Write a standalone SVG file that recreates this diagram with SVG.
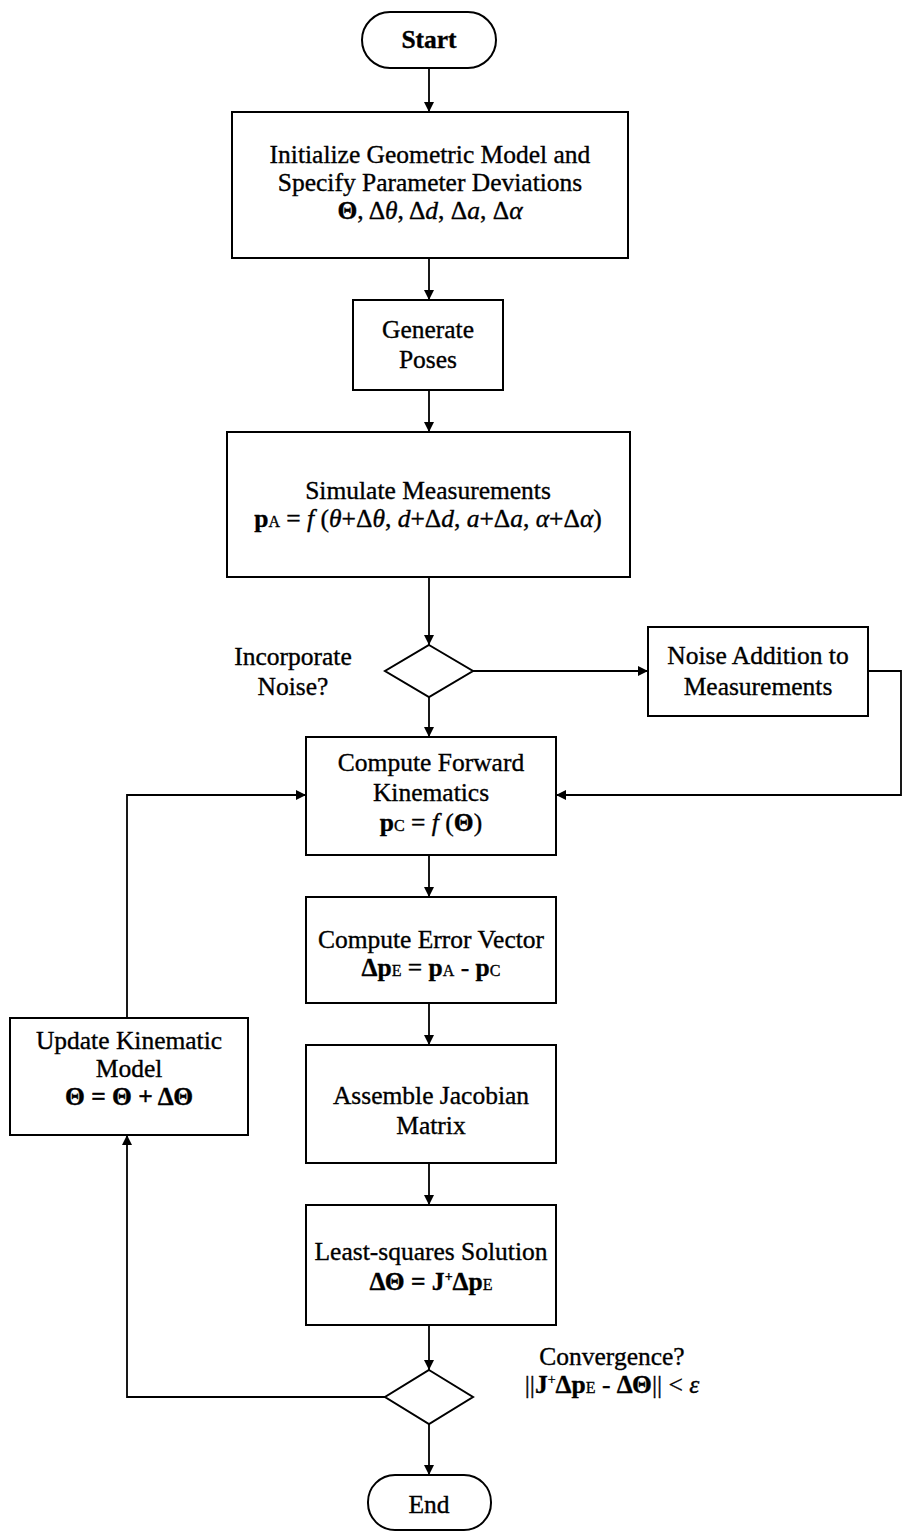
<svg xmlns="http://www.w3.org/2000/svg" width="903" height="1535" viewBox="0 0 903 1535">
<style>
.box{fill:#fff;stroke:#000;stroke-width:2}
.ln{fill:none;stroke:#000;stroke-width:1.8}
text{font-family:"Liberation Serif","Times New Roman",serif;font-size:25.5px;fill:#000;stroke:#000;stroke-width:0.35;text-anchor:middle}
.b{font-weight:bold}
.i{font-style:italic}
.s{font-size:16px}
.sup{font-size:14px}
</style>
<defs>
<marker id="ah" viewBox="0 0 10 10" refX="10" refY="5" markerWidth="11" markerHeight="10" markerUnits="userSpaceOnUse" orient="auto">
<path d="M0,0 L10,5 L0,10 z" fill="#000"/>
</marker>
</defs>
<rect width="903" height="1535" fill="#fff"/>
<g id="connectors">
<line class="ln" x1="429" y1="68" x2="429" y2="112" marker-end="url(#ah)"/>
<line class="ln" x1="429" y1="258" x2="429" y2="300" marker-end="url(#ah)"/>
<line class="ln" x1="429" y1="390" x2="429" y2="432" marker-end="url(#ah)"/>
<line class="ln" x1="429" y1="577" x2="429" y2="645" marker-end="url(#ah)"/>
<line class="ln" x1="473" y1="671" x2="648" y2="671" marker-end="url(#ah)"/>
<polyline class="ln" points="868,671 901,671 901,795 556,795" marker-end="url(#ah)"/>
<line class="ln" x1="429" y1="697" x2="429" y2="737" marker-end="url(#ah)"/>
<line class="ln" x1="429" y1="855" x2="429" y2="897" marker-end="url(#ah)"/>
<line class="ln" x1="429" y1="1003" x2="429" y2="1045" marker-end="url(#ah)"/>
<line class="ln" x1="429" y1="1163" x2="429" y2="1205" marker-end="url(#ah)"/>
<line class="ln" x1="429" y1="1325" x2="429" y2="1370" marker-end="url(#ah)"/>
<line class="ln" x1="429" y1="1424" x2="429" y2="1475" marker-end="url(#ah)"/>
<polyline class="ln" points="385,1397 127,1397 127,1135" marker-end="url(#ah)"/>
<polyline class="ln" points="127,1018 127,795 306,795" marker-end="url(#ah)"/>
</g>
<g id="start">
<rect class="box" x="362" y="12" width="134" height="56" rx="28"/>
<text x="429" y="48" class="b">Start</text>
</g>
<g id="init">
<rect class="box" x="232" y="112" width="396" height="146"/>
<text x="430" y="163">Initialize Geometric Model and</text>
<text x="430" y="191">Specify Parameter Deviations</text>
<text x="430" y="219"><tspan class="b">Θ</tspan>, Δ<tspan class="i">θ</tspan>, Δ<tspan class="i">d</tspan>, Δ<tspan class="i">a</tspan>, Δ<tspan class="i">α</tspan></text>
</g>
<g id="poses">
<rect class="box" x="353" y="300" width="150" height="90"/>
<text x="428" y="338">Generate</text>
<text x="428" y="368">Poses</text>
</g>
<g id="simulate">
<rect class="box" x="227" y="432" width="403" height="145"/>
<text x="428" y="499">Simulate Measurements</text>
<text x="428" y="527"><tspan class="b">p</tspan><tspan class="s">A</tspan> = <tspan class="i">f</tspan> (<tspan class="i">θ</tspan>+Δ<tspan class="i">θ</tspan>, <tspan class="i">d</tspan>+Δ<tspan class="i">d</tspan>, <tspan class="i">a</tspan>+Δ<tspan class="i">a</tspan>, <tspan class="i">α</tspan>+Δ<tspan class="i">α</tspan>)</text>
</g>
<g id="noise-decision">
<polygon class="box" points="429,645 473,671 429,697 385,671"/>
<text x="293" y="665">Incorporate</text>
<text x="293" y="695">Noise?</text>
</g>
<g id="noise">
<rect class="box" x="648" y="627" width="220" height="89"/>
<text x="758" y="664">Noise Addition to</text>
<text x="758" y="695">Measurements</text>
</g>
<g id="forward">
<rect class="box" x="306" y="737" width="250" height="118"/>
<text x="431" y="771">Compute Forward</text>
<text x="431" y="801">Kinematics</text>
<text x="431" y="831"><tspan class="b">p</tspan><tspan class="s">C</tspan> = <tspan class="i">f</tspan> (<tspan class="b">Θ</tspan>)</text>
</g>
<g id="error">
<rect class="box" x="306" y="897" width="250" height="106"/>
<text x="431" y="948">Compute Error Vector</text>
<text x="431" y="976"><tspan class="b">Δp</tspan><tspan class="s">E</tspan> = <tspan class="b">p</tspan><tspan class="s">A</tspan> - <tspan class="b">p</tspan><tspan class="s">C</tspan></text>
</g>
<g id="jacobian">
<rect class="box" x="306" y="1045" width="250" height="118"/>
<text x="431" y="1104">Assemble Jacobian</text>
<text x="431" y="1134">Matrix</text>
</g>
<g id="lsq">
<rect class="box" x="306" y="1205" width="250" height="120"/>
<text x="431" y="1260">Least-squares Solution</text>
<text x="431" y="1290" class="b">ΔΘ = J<tspan class="sup" dy="-9">+</tspan><tspan dy="9">Δp</tspan><tspan class="s" font-weight="normal">E</tspan></text>
</g>
<g id="update">
<rect class="box" x="10" y="1018" width="238" height="117"/>
<text x="129" y="1049">Update Kinematic</text>
<text x="129" y="1077">Model</text>
<text x="129" y="1105" class="b">Θ = Θ + ΔΘ</text>
</g>
<g id="convergence">
<polygon class="box" points="429,1370 473,1397 429,1424 385,1397"/>
<text x="612" y="1365">Convergence?</text>
<text x="612" y="1393">||<tspan class="b">J</tspan><tspan class="sup" dy="-9">+</tspan><tspan class="b" dy="9">Δp</tspan><tspan class="s">E</tspan> - <tspan class="b">ΔΘ</tspan>|| &lt; <tspan class="i">ε</tspan></text>
</g>
<g id="end">
<rect class="box" x="368" y="1475" width="123" height="55" rx="27"/>
<text x="429" y="1513">End</text>
</g>
</svg>
